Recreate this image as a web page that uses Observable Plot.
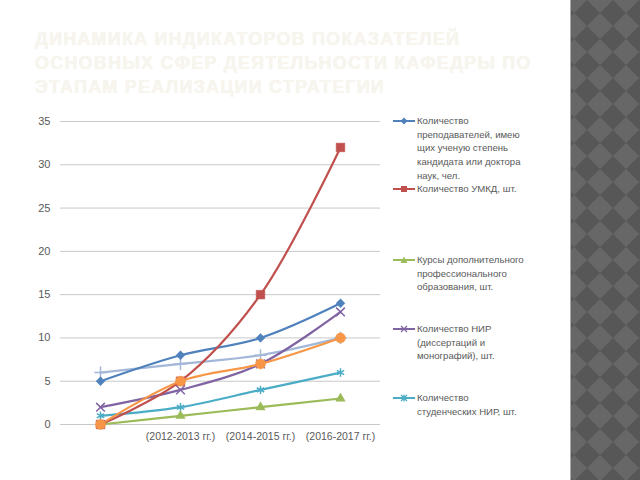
<!DOCTYPE html>
<html>
<head>
<meta charset="utf-8">
<script src="https://cdn.jsdelivr.net/npm/d3@7"></script>
<script src="https://cdn.jsdelivr.net/npm/@observablehq/plot@0.6"></script>
<style>
  html, body { margin: 0; padding: 0; background: #fff; }
  body { width: 640px; height: 480px; position: relative; overflow: hidden; font-family: "Liberation Sans", Arial, sans-serif; }
  #title { position: absolute; left: 35px; top: 27px; font-size: 18px; line-height: 24px; letter-spacing: 1.2px; color: #F7F5EE; font-weight: bold; text-shadow: 0 0 1px #EFEDE5; white-space: nowrap; }
  #chart { position: absolute; left: 0; top: 0; }
  #legend { position: absolute; left: 0; top: 0; color: #595959; font-size: 9.6px; line-height: 13.7px; }
  .entry { position: absolute; left: 393px; display: flex; align-items: flex-start; }
  .entry svg { flex: none; margin-top: 2px; }
  .entry div { margin-left: 2px; white-space: nowrap; }
  #panel { position: absolute; left: 570px; top: 0; width: 70px; height: 480px; border-left: 1px solid #aaa; }
</style>
</head>
<body>
<div id="title">ДИНАМИКА ИНДИКАТОРОВ ПОКАЗАТЕЛЕЙ<br>ОСНОВНЫХ СФЕР ДЕЯТЕЛЬНОСТИ КАФЕДРЫ ПО<br>ЭТАПАМ РЕАЛИЗАЦИИ СТРАТЕГИИ</div>
<div id="chart"></div>
<div id="legend"></div>
<svg id="panel" width="70" height="480">
  <defs>
    <pattern id="dia" width="26" height="26" patternUnits="userSpaceOnUse" x="3" y="0">
      <rect width="26" height="26" fill="#676767"/>
      <polygon points="13,0 26,13 13,26 0,13" fill="#575757"/>
    </pattern>
  </defs>
  <rect width="70" height="480" fill="url(#dia)"/>
</svg>
<script>
// Stages (x categories) and tick labels
const stages = ["0", "1", "2", "3"];
const tickLabels = ["", "(2012-2013 гг.)", "(2014-2015 гг.)", "(2016-2017 гг.)"];

// Series values
const teachers = [5, 8, 10, 14];      // Количество преподавателей...
const umkd = [0, 5, 15, 32];          // Количество УМКД
const courses = [0, 1, 2, 3];         // Курсы ДПО
const nir = [2, 4, 7, 13];            // Количество НИР
const studentNir = [1, 2, 4, 6];      // Студенческие НИР
const series6 = [0, 5, 7, 10];        // (legend cut off)
const series7 = [6, 7, 8, 10];        // (legend cut off)

const seriesNames = [
  "Количество преподавателей, имеющих ученую степень кандидата или доктора наук, чел.",
  "Количество УМКД, шт.",
  "Курсы дополнительного профессионального образования, шт.",
  "Количество НИР (диссертаций и монографий), шт.",
  "Количество студенческих НИР, шт.",
  "Ряд 6",
  "Ряд 7"
];
const seriesValues = [teachers, umkd, courses, nir, studentNir, series6, series7];
const colors = ["#4F81BD", "#C0504D", "#9BBB59", "#8064A2", "#4BACC6", "#F79646", "#A3B7D8"];
const symbols = ["diamond2", "square2", "triangle2", "times", "asterisk", "circle", "plus"];
const filled = [true, true, true, false, false, true, false];
const drawOrder = [6, 0, 3, 4, 2, 1, 5];

const yTicks = [0, 5, 10, 15, 20, 25, 30, 35];

const rows = [];
seriesValues.forEach((vals, s) => vals.forEach((v, i) => rows.push({s, name: seriesNames[s], stage: stages[i], value: v})));

const marks = [
  Plot.gridY(yTicks, {stroke: "#C8C8C8", strokeOpacity: 1, strokeWidth: 1}),
  Plot.axisY(yTicks, {tickSize: 0, tickPadding: 10, fill: "#595959", fontSize: 11}),
  Plot.axisX({tickSize: 0, tickPadding: 8, fill: "#595959", fontSize: 10.5, tickFormat: (d, i) => tickLabels[stages.indexOf(d)]})
];
for (const s of drawOrder) {
  const data = rows.filter(r => r.s === s);
  marks.push(Plot.line(data, {x: "stage", y: "value", stroke: colors[s], strokeWidth: 2.2, curve: "catmull-rom"}));
}
for (const s of drawOrder) {
  const data = rows.filter(r => r.s === s);
  const sym = symbols[s];
  const r = s === 1 ? 5.5 : s === 5 ? 5 : s === 2 ? 4.5 : 4;
  marks.push(Plot.dot(data, filled[s]
    ? {x: "stage", y: "value", symbol: () => sym, r, fill: colors[s], stroke: colors[s], strokeWidth: 0.5}
    : {x: "stage", y: "value", symbol: () => sym, r, stroke: colors[s], strokeWidth: 1.5, fill: "none"}));
}

const chart = Plot.plot({
  width: 560,
  height: 480,
  marginLeft: 60,
  marginRight: 180,
  marginTop: 121,
  marginBottom: 56,
  style: {fontFamily: "Liberation Sans, Arial, sans-serif", background: "transparent", overflow: "visible"},
  x: {type: "point", domain: stages, padding: 0.5, label: null, axis: null},
  y: {domain: [0, 35], label: null, axis: null},
  symbol: {type: "identity"},
  marks
});
document.getElementById("chart").appendChild(chart);

// Legend (five visible entries, as in the reference)
const legendEntries = [
  {s: 0, top: 114, lines: ["Количество", "преподавателей, имею", "щих ученую степень", "кандидата или доктора", "наук, чел."]},
  {s: 1, top: 182, lines: ["Количество УМКД, шт."]},
  {s: 2, top: 253, lines: ["Курсы дополнительного", "профессионального", "образования, шт."]},
  {s: 3, top: 322, lines: ["Количество НИР", "(диссертаций и", "монографий), шт."]},
  {s: 4, top: 391, lines: ["Количество", "студенческих НИР, шт."]}
];
const legend = document.getElementById("legend");
const symPaths = {
  0: '<path d="M11,1.5 L14.5,5 L11,8.5 L7.5,5 Z" fill="#4F81BD"/>',
  1: '<rect x="8" y="2" width="6" height="6" fill="#C0504D"/>',
  2: '<path d="M11,1.5 L14.5,8 L7.5,8 Z" fill="#9BBB59"/>',
  3: '<path d="M8,2 L14,8 M14,2 L8,8" stroke="#8064A2" stroke-width="1.3"/>',
  4: '<path d="M8,2 L14,8 M14,2 L8,8 M11,1.5 L11,8.5" stroke="#4BACC6" stroke-width="1.3"/>'
};
for (const e of legendEntries) {
  const div = document.createElement("div");
  div.className = "entry";
  div.style.top = e.top + "px";
  div.innerHTML = `<svg width="22" height="10"><line x1="0" x2="22" y1="5" y2="5" stroke="${colors[e.s]}" stroke-width="2"/>${symPaths[e.s]}</svg><div>${e.lines.join("<br>")}</div>`;
  legend.appendChild(div);
}
</script>
</body>
</html>
